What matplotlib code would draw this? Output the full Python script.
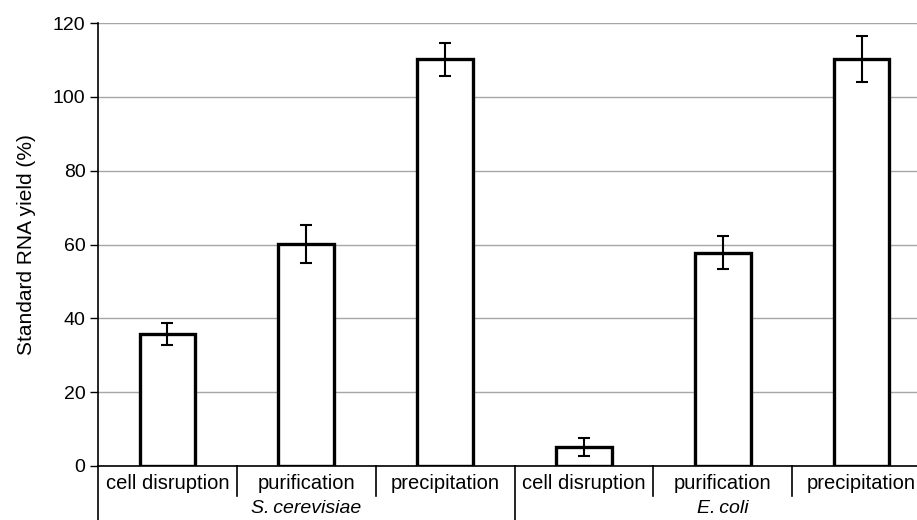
import matplotlib
matplotlib.use("Agg")
import matplotlib.pyplot as plt
import numpy as np

plt.rcParams['font.family'] = ['Liberation Sans', 'DejaVu Sans']

steps = ['cell disruption', 'purification', 'precipitation',
         'cell disruption', 'purification', 'precipitation']
organisms = ['S.\u2009cerevisiae', 'E.\u2009coli']
yields = [35.8, 60.2, 110.2, 5.1, 57.8, 110.2]
errors = [2.9, 5.2, 4.5, 2.4, 4.5, 6.3]

fig = plt.figure(figsize=(9.17, 5.2), dpi=100)
# plot area runs slightly past the right edge, as in the reference
ax = fig.add_axes([98 / 917, 1 - 466 / 520, (931 - 98) / 917, (466 - 23) / 520])

x = np.arange(len(steps)) + 0.5
ax.bar(x, yields, width=0.4, color='white', edgecolor='black', linewidth=2.4, zorder=3)
ax.errorbar(x, yields, yerr=errors, fmt='none', ecolor='black', elinewidth=1.5,
            capsize=4, capthick=1.5, zorder=4)

ax.set_xlim(0, 6)
ax.set_ylim(0, 120)
ax.set_yticks(np.arange(0, 121, 20))
ax.yaxis.grid(True, color='#a6a6a6', linewidth=1)
ax.set_axisbelow(True)
ax.set_xticks([])
ax.tick_params(axis='y', direction='out', length=6, width=1, labelsize=14, pad=3)
ax.set_ylabel('Standard RNA yield (%)', fontsize=15, labelpad=12)

for s in ['top', 'right']:
    ax.spines[s].set_visible(False)
ax.spines['left'].set_linewidth(1.2)
ax.spines['bottom'].set_linewidth(1.2)

trans = ax.get_xaxis_transform()
# category separators
for xs in [1, 2, 4, 5]:
    ax.plot([xs, xs], [0, -0.068], transform=trans, color='black', lw=1.2, clip_on=False)
# group separators
for xs in [0, 3, 6]:
    ax.plot([xs, xs], [0, -0.14], transform=trans, color='black', lw=1.2, clip_on=False)

for xi, s in zip(x, steps):
    ax.text(xi, -0.04, s, transform=trans, ha='center', va='center', fontsize=14.5)
for gi, org in enumerate(organisms):
    ax.text(1.5 + 3 * gi, -0.095, org, transform=trans, ha='center', va='center',
            fontsize=14, style='italic')

fig.savefig('out.png', dpi=100)
